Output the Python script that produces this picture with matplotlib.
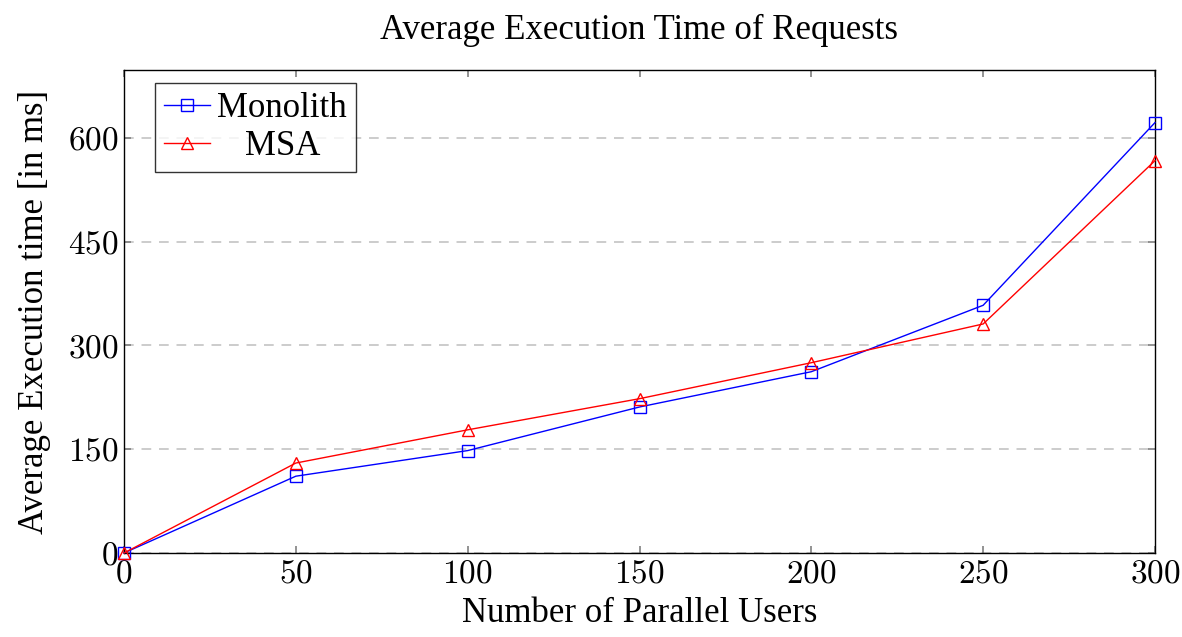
import matplotlib
matplotlib.use("Agg")
import matplotlib.pyplot as plt
from matplotlib.ticker import FuncFormatter

users = [0, 50, 100, 150, 200, 250, 300]
monolith = [0, 111, 148, 211, 262, 358, 622]
msa = [0, 130, 178, 223, 275, 331, 567]
yticks = [0, 150, 300, 450, 600]
xticks = [0, 50, 100, 150, 200, 250, 300]

plt.rcParams['font.family'] = ['Liberation Serif', 'DejaVu Serif']
plt.rcParams['mathtext.fontset'] = 'cm'

fig = plt.figure(figsize=(11.82, 6.37), dpi=100)
ax = fig.add_axes([124/1182, 1-553/637, (1155-124)/1182, (553-70)/637])

for y in yticks:
    ax.axhline(y, color='#cccccc', lw=1.4, ls=(0, (5, 4)), zorder=0)

ax.plot(users, monolith, color='blue', lw=1.0, marker='s', ms=9,
        mfc='none', mec='blue', mew=1.0, label='Monolith', zorder=3, clip_on=False)
ax.plot(users, msa, color='red', lw=1.0, marker='^', ms=8,
        mfc='none', mec='red', mew=1.0, label='MSA', zorder=3, clip_on=False)

ax.set_xlim(0, 300)
ax.set_ylim(0, 698)
ax.set_xticks(xticks)
ax.set_yticks(yticks)
fmt = FuncFormatter(lambda v, p: r'$%d$' % v)
ax.xaxis.set_major_formatter(fmt)
ax.yaxis.set_major_formatter(fmt)
ax.tick_params(direction='in', length=5, width=1.2, color='#808080', labelsize=24, pad=4)
ax.tick_params(axis='x', top=True)
ax.tick_params(axis='y', right=True)
for s in ax.spines.values():
    s.set_linewidth(1.0)

ax.set_xlabel('Number of Parallel Users', fontsize=25, labelpad=6)
ax.set_ylabel('Average Execution time [in ms]', fontsize=25, labelpad=12)
ax.set_title('Average Execution Time of Requests', fontsize=25, pad=22)

leg = ax.legend(loc='upper left', bbox_to_anchor=(0.030, 0.973), fontsize=25,
                frameon=True, fancybox=False, edgecolor='black',
                handlelength=1.35, borderpad=0.25, labelspacing=0.15,
                handletextpad=0.2, borderaxespad=0.0)
leg.get_frame().set_linewidth(1.0)

fig.canvas.draw()
r = fig.canvas.get_renderer()
texts = leg.get_texts()
widths = [t.get_window_extent(r).width for t in texts]
wmax = max(widths)
for t, w in zip(texts, widths):
    t.set_x((wmax - w) / 2)

fig.savefig('out.png', dpi=100)
